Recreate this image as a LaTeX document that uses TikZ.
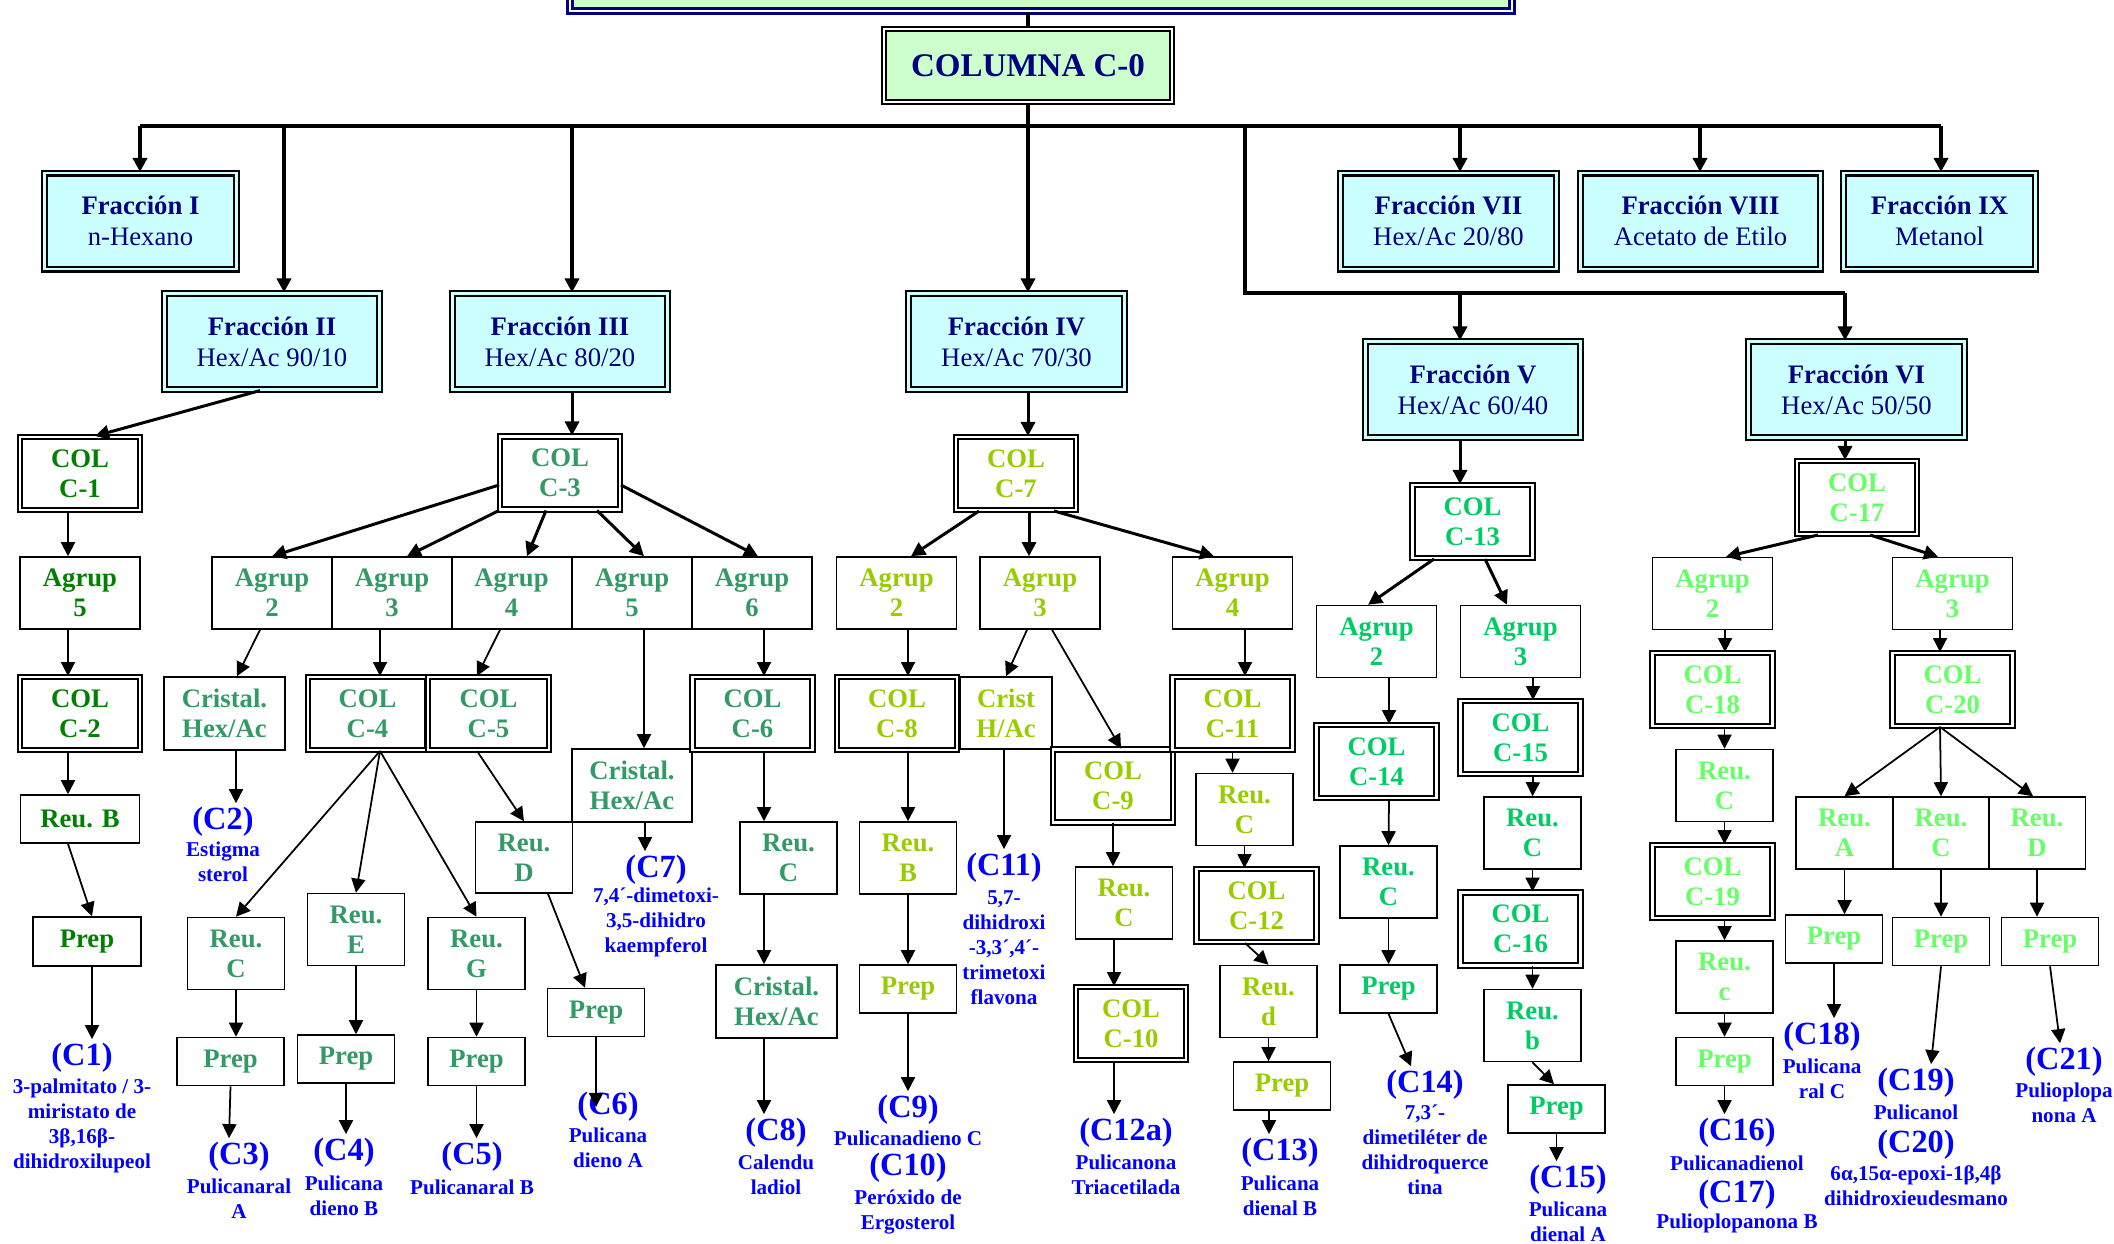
\documentclass[tikz,border=0pt]{standalone}
\usepackage{fontspec}
\setmainfont{Liberation Serif}
\usetikzlibrary{arrows.meta}
\definecolor{navy}{HTML}{000080}
\definecolor{cian}{HTML}{CCFFFF}
\definecolor{verdeclaro}{HTML}{CCFFCC}
\definecolor{azul}{HTML}{0000FF}
\definecolor{verdeA}{HTML}{008000}
\definecolor{verdeB}{HTML}{339966}
\definecolor{verdeC}{HTML}{99CC00}
\definecolor{verdeD}{HTML}{00CC66}
\definecolor{verdeE}{HTML}{66FF66}
\begin{document}
\begin{tikzpicture}[
    caja/.style={draw, line width=0.45pt, inner sep=0pt, align=center,
      font=\fontsize{7.6}{8.6}\selectfont\bfseries},
    ag/.style={caja, minimum width=1.20cm, minimum height=0.72cm},
    reu/.style={caja, minimum width=0.97cm, minimum height=0.72cm},
    prep/.style={caja, minimum width=0.97cm, minimum height=0.48cm},
    colb/.style={caja, double, double distance=0.7pt, line width=0.55pt,
      minimum width=1.20cm, minimum height=0.73cm},
    frac/.style={draw, double=cian, double distance=0.8pt, line width=0.6pt,
      fill=cian, text=navy, inner sep=0pt, align=center,
      minimum height=0.96cm, font=\fontsize{7.6}{8.8}\selectfont},
    comp/.style={text=azul, inner sep=1pt, font=\fontsize{9.2}{10}\selectfont\bfseries},
    desc/.style={text=azul, inner sep=0pt, align=center,
      font=\fontsize{6}{7.1}\selectfont\bfseries},
    flecha/.style={-{Triangle[length=4pt,width=4pt]}, line width=0.5pt},
    flechag/.style={flecha, line width=0.85pt},
    flechab/.style={flecha, line width=1.2pt},
    bus/.style={line width=1.2pt},
  ]

    \useasboundingbox (0,0) rectangle (21.14,-12.43);

    % caja superior y columna C-0
    \node[draw=navy, double=white, double distance=0.8pt, line width=0.7pt,
      fill=verdeclaro, inner sep=0pt, minimum width=9.42cm, minimum height=0.5cm] (top) at (10.41,0.14) {};
    \node[colb, fill=verdeclaro, text=navy, minimum width=2.88cm,
      font=\fontsize{9.4}{10}\selectfont\bfseries] (col0) at (10.28,-0.655) {COLUMNA C-0};

    % fracciones
    \node[frac, minimum width=1.92cm] (fI) at (1.405,-2.21) {\textbf{Fracción I}\\n-Hexano};
    \node[frac, minimum width=2.15cm] (fII) at (2.72,-3.415) {\textbf{Fracción II}\\Hex/Ac 90/10};
    \node[frac, minimum width=2.15cm] (fIII) at (5.60,-3.415) {\textbf{Fracción III}\\Hex/Ac 80/20};
    \node[frac, minimum width=2.16cm] (fIV) at (10.165,-3.415) {\textbf{Fracción IV}\\Hex/Ac 70/30};
    \node[frac, minimum width=2.15cm] (fV) at (14.73,-3.895) {\textbf{Fracción V}\\Hex/Ac 60/40};
    \node[frac, minimum width=2.16cm] (fVI) at (18.565,-3.895) {\textbf{Fracción VI}\\Hex/Ac 50/50};
    \node[frac, minimum width=2.16cm] (fVII) at (14.485,-2.21) {\textbf{Fracción VII}\\Hex/Ac 20/80};
    \node[frac, minimum width=2.40cm] (fVIII) at (17.005,-2.21) {\textbf{Fracción VIII}\\Acetato de Etilo};
    \node[frac, minimum width=1.92cm] (fIX) at (19.395,-2.21) {\textbf{Fracción IX}\\Metanol};

    % barra de reparto
    \coordinate (b1) at (1.40,-1.26);
    \coordinate (b2) at (2.84,-1.26);
    \coordinate (b3) at (5.72,-1.26);
    \coordinate (b4) at (10.28,-1.26);
    \coordinate (bs) at (12.45,-1.26);
    \coordinate (b7) at (14.60,-1.26);
    \coordinate (b8) at (17.00,-1.26);
    \coordinate (b9) at (19.41,-1.26);
    \coordinate (b5) at (14.60,-2.93);
    \coordinate (b6) at (18.45,-2.93);

    \draw[bus] (top.south -| col0.north) -- (col0.north);
    \draw[bus] (col0.south) -- (b4);
    \draw[bus] (b1) -- (b9);
    \draw[bus] (bs) |- (b6);
    \draw[flechab] (b1) -- (b1 |- fI.north);
    \draw[flechab] (b2) -- (b2 |- fII.north);
    \draw[flechab] (b3) -- (b3 |- fIII.north);
    \draw[flechab] (b4) -- (b4 |- fIV.north);
    \draw[flechab] (b7) -- (b7 |- fVII.north);
    \draw[flechab] (b8) -- (b8 |- fVIII.north);
    \draw[flechab] (b9) -- (b9 |- fIX.north);
    \draw[flechab] (b5) -- (b5 |- fV.north);
    \draw[flechab] (b6) -- (b6 |- fVI.north);

    % columnas principales
    \node[colb, text=verdeA] (c1) at (0.80,-4.735) {COL\\C-1};
    \node[colb, text=verdeB] (c3) at (5.60,-4.73) {COL\\C-3};
    \node[colb, text=verdeC] (c7) at (10.16,-4.735) {COL\\C-7};
    \node[colb, text=verdeD] (c13) at (14.725,-5.215) {COL\\C-13};
    \node[colb, text=verdeE] (c17) at (18.57,-4.975) {COL\\C-17};

    \draw[flechag] ([xshift=-1.2mm]fII.south) -- ([xshift=1.5mm]c1.north);
    \draw[flechag] (b3 |- fIII.south) -- (b3 |- c3.north);
    \draw[flechag] (b4 |- fIV.south) -- (b4 |- c7.north);
    \draw[flechag] (b5 |- fV.south) -- (b5 |- c13.north);
    \draw[flechag] (b6 |- fVI.south) -- (b6 |- c17.north);

    % rama C-1
    \node[ag, text=verdeA] (a15) at (0.80,-5.93) {Agrup\\5};
    \node[colb, text=verdeA] (c2) at (0.80,-7.135) {COL\\C-2};
    \node[caja, text=verdeA, minimum width=1.19cm, minimum height=0.48cm] (reuB1) at (0.80,-8.19) {Reu. B};
    \node[caja, text=verdeA, minimum width=1.08cm, minimum height=0.49cm] (prep1) at (0.87,-9.415) {Prep};
    \node[comp] (k1) at (0.82,-10.58) {(C1)};
    \node[desc] (k1d) at (0.82,-11.255) {3-palmitato / 3-\\miristato de\\3β,16β-\\dihidroxilupeol};

    \draw[flecha] ([xshift=-1.2mm]c1.south) -- ([xshift=-1.2mm]a15.north);
    \draw[flecha] ([xshift=-1.2mm]a15.south) -- ([xshift=-1.2mm]c2.north);
    \draw[flecha] ([xshift=-1.2mm]c2.south) -- ([xshift=-1.2mm]reuB1.north);
    \draw[flecha] ([xshift=-1.2mm]reuB1.south) -- ([xshift=0.5mm]prep1.north);
    \draw[flecha] ([xshift=0.5mm]prep1.south) -- ([xshift=1mm]k1.north);

    % rama C-3
    \node[ag, text=verdeB] (a32) at (2.72,-5.93) {Agrup\\2};
    \node[ag, text=verdeB] (a33) at (3.92,-5.93) {Agrup\\3};
    \node[ag, text=verdeB] (a34) at (5.115,-5.93) {Agrup\\4};
    \node[ag, text=verdeB] (a35) at (6.32,-5.93) {Agrup\\5};
    \node[ag, text=verdeB] (a36) at (7.52,-5.93) {Agrup\\6};
    \node[caja, text=verdeB, minimum width=1.21cm, minimum height=0.73cm] (crist2) at (2.245,-7.135) {Cristal.\\Hex/Ac};
    \node[colb, text=verdeB, minimum width=1.19cm] (c4) at (3.675,-7.135) {COL\\C-4};
    \node[colb, text=verdeB, minimum width=1.21cm] (c5) at (4.885,-7.135) {COL\\C-5};
    \node[caja, text=verdeB, minimum width=1.20cm, minimum height=0.73cm] (crist7) at (6.32,-7.855) {Cristal.\\Hex/Ac};
    \node[colb, text=verdeB] (c6) at (7.525,-7.135) {COL\\C-6};
    \node[reu, text=verdeB] (reuC4) at (2.36,-9.535) {Reu.\\C};
    \node[reu, text=verdeB] (reuE) at (3.56,-9.295) {Reu.\\E};
    \node[reu, text=verdeB] (reuG) at (4.765,-9.535) {Reu.\\G};
    \node[reu, text=verdeB, minimum height=0.71cm] (reuD5) at (5.24,-8.575) {Reu.\\D};
    \node[prep, text=verdeB, minimum width=1.07cm] (prep3) at (2.305,-10.615) {Prep};
    \node[prep, text=verdeB] (prep4) at (3.46,-10.59) {Prep};
    \node[prep, text=verdeB] (prep5) at (4.765,-10.615) {Prep};
    \node[prep, text=verdeB] (prep6) at (5.96,-10.125) {Prep};
    \node[reu, text=verdeB] (reuC6) at (7.885,-8.58) {Reu.\\C};
    \node[caja, text=verdeB, minimum width=1.21cm, minimum height=0.73cm] (crist8) at (7.765,-10.015) {Cristal.\\Hex/Ac};

    \node[comp] (k2) at (2.23,-8.22) {(C2)};
    \node[desc] (k2d) at (2.23,-8.62) {Estigma\\sterol};
    \node[comp] (k3) at (2.39,-11.57) {(C3)};
    \node[desc] (k3d) at (2.39,-11.985) {Pulicanaral\\A};
    \node[comp] (k4) at (3.44,-11.53) {(C4)};
    \node[desc] (k4d) at (3.44,-11.955) {Pulicana\\dieno B};
    \node[comp] (k5) at (4.72,-11.57) {(C5)};
    \node[desc] (k5d) at (4.72,-11.87) {Pulicanaral B};
    \node[comp] (k6) at (6.08,-11.07) {(C6)};
    \node[desc] (k6d) at (6.08,-11.475) {Pulicana\\dieno A};
    \node[comp] (k7) at (6.56,-8.70) {(C7)};
    \node[desc] (k7d) at (6.56,-9.22) {7,4´-dimetoxi-\\3,5-dihidro\\kaempferol};
    \node[comp] (k8) at (7.76,-11.33) {(C8)};
    \node[desc] (k8d) at (7.76,-11.75) {Calendu\\ladiol};

    \draw[flechag] ([yshift=-1.2mm]c3.west) -- (a32.north);
    \draw[flechag] (c3.south west) -- ([xshift=1.5mm]a33.north);
    \draw[flechag] ([xshift=-1.4mm]c3.south) -- ([xshift=1.55mm]a34.north);
    \draw[flechag] ([xshift=3.7mm]c3.south) -- ([xshift=1.2mm]a35.north);
    \draw[flechag] ([yshift=-1.2mm]c3.east) -- ([xshift=0.6mm]a36.north);
    \draw[flecha] ([xshift=-1.2mm]a32.south) -- ([xshift=1.25mm]crist2.north);
    \draw[flecha] ([xshift=-1.2mm]a33.south) -- ([xshift=1.25mm]c4.north);
    \draw[flecha] ([xshift=-1.15mm]a34.south) -- ([xshift=-1.15mm]c5.north);
    \draw[flecha] ([xshift=1.2mm]a35.south) -- ([xshift=1.2mm]crist7.north);
    \draw[flecha] ([xshift=1.2mm]a36.south) -- ([xshift=1.15mm]c6.north);
    \draw[flecha] ([xshift=1.15mm]crist2.south) -- ([xshift=1.3mm]k2.north);
    \draw[flecha] ([xshift=1.25mm]c4.south) -- (reuC4.north);
    \draw[flecha] ([xshift=1.25mm]c4.south) -- (reuE.north);
    \draw[flecha] ([xshift=1.25mm]c4.south) -- (reuG.north);
    \draw[flecha] ([xshift=-1.15mm]c5.south) -- (reuD5.north);
    \draw[flecha] (reuC4.south) -- (reuC4.south |- prep3.north);
    \draw[flecha] (prep3.south) -- ([xshift=-1mm]k3.north);
    \draw[flecha] (reuE.south) -- (reuE.south |- prep4.north);
    \draw[flecha] (prep4.south) -- (prep4.south |- k4.north);
    \draw[flecha] (reuG.south) -- (reuG.south |- prep5.north);
    \draw[flecha] (prep5.south) -- (prep5.south |- k5.north);
    \draw[flecha] ([xshift=2.4mm]reuD5.south) -- ([xshift=-1.1mm]prep6.north);
    \draw[flecha] (prep6.south) -- (prep6.south |- k6.center);
    \draw[flecha] ([xshift=1.3mm]crist7.south) -- ([xshift=1.3mm]crist7.south |- k7.north);
    \draw[flecha] ([xshift=1.15mm]c6.south) -- ([xshift=1.15mm]c6.south |- reuC6.north);
    \draw[flecha] ([xshift=-2.45mm]reuC6.south) -- ([xshift=-2.45mm]reuC6.south |- crist8.north);
    \draw[flecha] ([xshift=-1.25mm]crist8.south) -- ([xshift=-1.25mm]crist8.south |- k8.north);

    % rama C-7
    \node[ag, text=verdeC] (a72) at (8.965,-5.93) {Agrup\\2};
    \node[ag, text=verdeC] (a73) at (10.40,-5.93) {Agrup\\3};
    \node[ag, text=verdeC] (a74) at (12.325,-5.93) {Agrup\\4};
    \node[colb, text=verdeC] (c8) at (8.97,-7.135) {COL\\C-8};
    \node[caja, text=verdeC, minimum width=0.92cm, minimum height=0.72cm] (cristH) at (10.06,-7.13) {Crist\\H/Ac};
    \node[colb, text=verdeC] (c9) at (11.13,-7.86) {COL\\C-9};
    \node[colb, text=verdeC] (c11) at (12.325,-7.135) {COL\\C-11};
    \node[reu, text=verdeC] (reuB8) at (9.08,-8.58) {Reu.\\B};
    \node[prep, text=verdeC] (prep8) at (9.08,-9.89) {Prep};
    \node[reu, text=verdeC] (reuC9) at (11.24,-9.03) {Reu.\\C};
    \node[colb, text=verdeC, minimum width=1.10cm] (c10) at (11.31,-10.235) {COL\\C-10};
    \node[reu, text=verdeC] (reuC11) at (12.445,-8.095) {Reu.\\C};
    \node[colb, text=verdeC] (c12) at (12.565,-9.055) {COL\\C-12};
    \node[reu, text=verdeC] (reud) at (12.685,-10.015) {Reu.\\d};
    \node[prep, text=verdeC] (prep12) at (12.82,-10.86) {Prep};

    \node[comp] (k9) at (9.08,-11.10) {(C9)};
    \node[desc] (k9d) at (9.08,-11.38) {Pulicanadieno C};
    \node[comp] (k10) at (9.08,-11.68) {(C10)};
    \node[desc] (k10d) at (9.08,-12.115) {Peróxido de\\Ergosterol};
    \node[comp] (k11) at (10.04,-8.68) {(C11)};
    \node[desc] (k11d) at (10.04,-9.475) {5,7-\\dihidroxi\\-3,3´,4´-\\trimetoxi\\flavona};
    \node[comp] (k12a) at (11.26,-11.33) {(C12a)};
    \node[desc] (k12ad) at (11.26,-11.75) {Pulicanona\\Triacetilada};
    \node[comp] (k13) at (12.80,-11.53) {(C13)};
    \node[desc] (k13d) at (12.80,-11.955) {Pulicana\\dienal B};

    \draw[flechag] ([xshift=-3.7mm]c7.south) -- ([xshift=1.45mm]a72.north);
    \draw[flechag] ([xshift=1.3mm]c7.south) -- ([xshift=1.3mm]c7.south |- a73.north);
    \draw[flechag] ([xshift=3.8mm]c7.south) -- ([xshift=-1.85mm]a74.north);
    \draw[flecha] ([xshift=1.15mm]a72.south) -- ([xshift=1.15mm]a72.south |- c8.north);
    \draw[flecha] ([xshift=-1.3mm]a73.south) -- (cristH.north);
    \draw[flecha] ([xshift=1.2mm]a73.south) -- ([xshift=0.8mm]c9.north);
    \draw[flecha] ([xshift=1.25mm]a74.south) -- ([xshift=1.25mm]a74.south |- c11.north);
    \draw[flecha] ([xshift=1.1mm]c8.south) -- (reuB8.north);
    \draw[flecha] (reuB8.south) -- (prep8.north);
    \draw[flecha] (prep8.south) -- (k9.north);
    \draw[flecha] ([xshift=-0.2mm]cristH.south) -- ([xshift=-0.2mm]cristH.south |- k11.north);
    \draw[flecha] (c9.south) -- (c9.south |- reuC9.north);
    \draw[flecha] ([xshift=-1mm]reuC9.south) -- ([xshift=-1mm]reuC9.south |- c10.north);
    \draw[flecha] ([xshift=-1.7mm]c10.south) -- ([xshift=-1.7mm]c10.south |- k12a.north);
    \draw[flecha] (c11.south) -- (c11.south |- reuC11.north);
    \draw[flecha] (reuC11.south) -- (reuC11.south |- c12.north);
    \draw[flecha] ([xshift=-1.15mm]c12.south) -- (reud.north);
    \draw[flecha] (reud.south) -- (reud.south |- prep12.north);
    \draw[flecha] ([xshift=-1.3mm]prep12.south) -- ([xshift=-1.3mm]prep12.south |- k13.north);

    % rama C-13
    \node[ag, text=verdeD] (a132) at (13.765,-6.415) {Agrup\\2};
    \node[ag, text=verdeD] (a133) at (15.205,-6.415) {Agrup\\3};
    \node[colb, text=verdeD] (c14) at (13.765,-7.615) {COL\\C-14};
    \node[colb, text=verdeD] (c15) at (15.205,-7.375) {COL\\C-15};
    \node[reu, text=verdeD] (reuC14) at (13.885,-8.82) {Reu.\\C};
    \node[prep, text=verdeD] (prep14) at (13.885,-9.89) {Prep};
    \node[reu, text=verdeD] (reuC15) at (15.325,-8.33) {Reu.\\C};
    \node[colb, text=verdeD] (c16) at (15.205,-9.29) {COL\\C-16};
    \node[reu, text=verdeD] (reub) at (15.325,-10.255) {Reu.\\b};
    \node[prep, text=verdeD] (prep16) at (15.565,-11.09) {Prep};

    \node[comp] (k14) at (14.25,-10.85) {(C14)};
    \node[desc] (k14d) at (14.25,-11.50) {7,3´-\\dimetiléter de\\dihidroquerce\\tina};
    \node[comp] (k15) at (15.68,-11.80) {(C15)};
    \node[desc] (k15d) at (15.68,-12.215) {Pulicana\\dienal A};

    \draw[flechag] ([xshift=-3.85mm]c13.south) -- ([xshift=-0.85mm]a132.north);
    \draw[flechag] ([xshift=1.25mm]c13.south) -- ([xshift=-1.35mm]a133.north);
    \draw[flecha] ([xshift=1.25mm]a132.south) -- ([xshift=1.25mm]a132.south |- c14.north);
    \draw[flecha] ([xshift=1.25mm]c14.south) -- (reuC14.north);
    \draw[flecha] (reuC14.south) -- (prep14.north);
    \draw[flecha] (prep14.south) -- ([xshift=-1.4mm]k14.north);
    \draw[flecha] ([xshift=1.25mm]a133.south) -- ([xshift=1.25mm]a133.south |- c15.north);
    \draw[flecha] ([xshift=1.25mm]c15.south) -- (reuC15.north);
    \draw[flecha] (reuC15.south) -- (reuC15.south |- c16.north);
    \draw[flecha] (reub.north |- c16.south) -- (reub.north);
    \draw[flecha] (reub.south) -- ([xshift=-0.25mm]prep16.north);
    \draw[flecha] (prep16.south) -- (prep16.south |- k15.north);

    % rama C-17
    \node[ag, text=verdeE] (a172) at (17.125,-5.935) {Agrup\\2};
    \node[ag, text=verdeE] (a173) at (19.525,-5.935) {Agrup\\3};
    \node[colb, text=verdeE] (c18) at (17.125,-6.895) {COL\\C-18};
    \node[colb, text=verdeE] (c20) at (19.525,-6.895) {COL\\C-20};
    \node[reu, text=verdeE] (reuC18) at (17.245,-7.855) {Reu.\\C};
    \node[colb, text=verdeE] (c19) at (17.125,-8.815) {COL\\C-19};
    \node[reu, text=verdeE] (reuc) at (17.245,-9.77) {Reu.\\c};
    \node[prep, text=verdeE] (prep19) at (17.245,-10.615) {Prep};
    \node[reu, text=verdeE] (reuA) at (18.445,-8.33) {Reu.\\A};
    \node[reu, text=verdeE] (reuC20) at (19.41,-8.33) {Reu.\\C};
    \node[reu, text=verdeE] (reuD) at (20.37,-8.33) {Reu.\\D};
    \node[prep, text=verdeE] (prepA) at (18.34,-9.39) {Prep};
    \node[prep, text=verdeE] (prepC) at (19.41,-9.415) {Prep};
    \node[prep, text=verdeE] (prepD) at (20.50,-9.415) {Prep};

    \node[comp] (k16) at (17.37,-11.33) {(C16)};
    \node[desc] (k16d) at (17.37,-11.63) {Pulicanadienol};
    \node[comp] (k17) at (17.37,-11.95) {(C17)};
    \node[desc] (k17d) at (17.37,-12.23) {Pulioplopanona B};
    \node[comp] (k18) at (18.22,-10.37) {(C18)};
    \node[desc] (k18d) at (18.22,-10.785) {Pulicana\\ral C};
    \node[comp] (k19) at (19.16,-10.83) {(C19)};
    \node[desc] (k19d) at (19.16,-11.12) {Pulicanol};
    \node[comp] (k20) at (19.16,-11.45) {(C20)};
    \node[desc] (k20d) at (19.16,-11.855) {6α,15α-epoxi-1β,4β\\dihidroxieudesmano};
    \node[comp] (k21) at (20.64,-10.62) {(C21)};
    \node[desc] (k21d) at (20.64,-11.03) {Pulioplopa\\nona A};

    \draw[flechag] ([xshift=-3.9mm]c17.south) -- ([xshift=1.35mm]a172.north);
    \draw[flechag] ([xshift=1.3mm]c17.south) -- ([xshift=-1.45mm]a173.north);
    \draw[flecha] ([xshift=1.25mm]a172.south) -- ([xshift=1.25mm]a172.south |- c18.north);
    \draw[flecha] (reuC18.north |- c18.south) -- (reuC18.north);
    \draw[flecha] (reuC18.south) -- (reuC18.south |- c19.north);
    \draw[flecha] (reuc.north |- c19.south) -- (reuc.north);
    \draw[flecha] (reuc.south) -- (prep19.north);
    \draw[flecha] (prep19.south) -- (prep19.south |- k16.north);
    \draw[flecha] ([xshift=-1.25mm]a173.south) -- ([xshift=-1.25mm]a173.south |- c20.north);
    \draw[flecha] ([xshift=-1.25mm]c20.south) -- (reuA.north);
    \draw[flecha] ([xshift=-1.25mm]c20.south) -- (reuC20.north);
    \draw[flecha] ([xshift=-1.25mm]c20.south) -- ([xshift=-0.4mm]reuD.north);
    \draw[flecha] (reuA.south) -- (reuA.south |- prepA.north);
    \draw[flecha] (prepA.south) -- (prepA.south |- k18.north);
    \draw[flecha] (reuC20.south) -- (prepC.north);
    \draw[flecha] (prepC.south) -- ([xshift=1.5mm]k19.north);
    \draw[flecha] (reuD.south) -- (reuD.south |- prepD.north);
    \draw[flecha] (prepD.south) -- ([xshift=-0.4mm]k21.north);

\end{tikzpicture}
\end{document}
